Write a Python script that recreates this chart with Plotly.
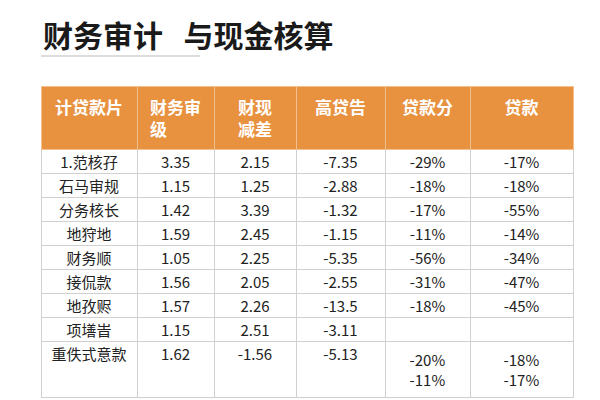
import plotly.graph_objects as go

headers = ["计贷款片", "财务审<br>级", "财现<br>减差", "高贷告", "贷款分", "贷款"]
names = ["1.范核孖", "石马审规", "分务核长", "地狩地", "财务顺", "接侃款", "地孜赆", "项墡旹", "重佚式意款"]
col_a = ["3.35", "1.15", "1.42", "1.59", "1.05", "1.56", "1.57", "1.15", "1.62"]
col_b = ["2.15", "1.25", "3.39", "2.45", "2.25", "2.05", "2.26", "2.51", "-1.56"]
col_c = ["-7.35", "-2.88", "-1.32", "-1.15", "-5.35", "-2.55", "-13.5", "-3.11", "-5.13"]
col_d = ["-29%", "-18%", "-17%", "-11%", "-56%", "-31%", "-18%", "", "-20%<br>-11%"]
col_e = ["-17%", "-18%", "-55%", "-14%", "-34%", "-47%", "-45%", "", "-18%<br>-17%"]

fig = go.Figure(go.Table(
    columnwidth=[96, 77, 82, 89, 85, 103],
    header=dict(values=[f"<b>{h}</b>" for h in headers], fill_color="#E8913F",
                line_color="#F2C08F", align="center", height=34,
                font=dict(color="white", size=17, family="Noto Sans CJK SC")),
    cells=dict(values=[names, col_a, col_b, col_c, col_d, col_e], fill_color="white",
               line_color="#D0D0D0", align="center", height=24,
               font=dict(color="#222222", size=15, family="Noto Sans CJK SC")),
    domain=dict(x=[0.055, 0.942], y=[0, 0.805]),
))
fig.add_annotation(text="<b>财务审计   与现金核算</b>", x=0.055, y=0.995, xref="paper", yref="paper",
                   xanchor="left", yanchor="top", showarrow=False,
                   font=dict(size=30, color="#1a1a1a", family="Noto Sans CJK SC"))
fig.add_shape(type="line", x0=0.055, x1=0.32, y0=0.88, y1=0.88, xref="paper", yref="paper",
              line=dict(color="#DDDDDD", width=2))
fig.update_layout(width=600, height=400, margin=dict(l=0, r=0, t=0, b=0),
                  paper_bgcolor="white")
fig.write_html("out.html")
